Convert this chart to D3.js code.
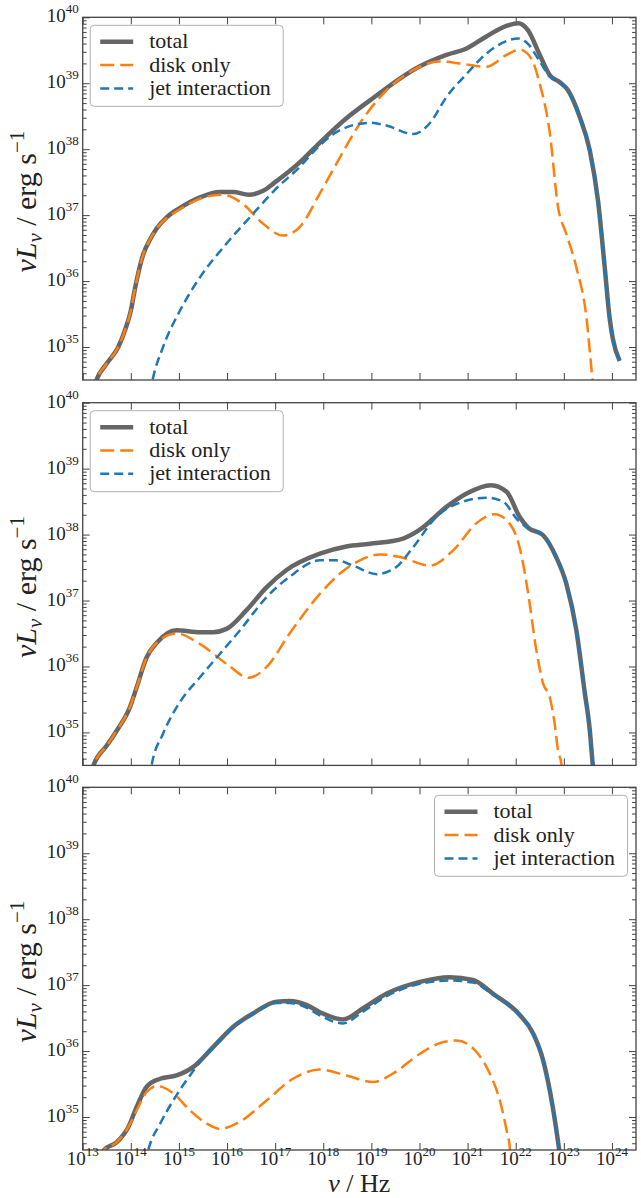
<!DOCTYPE html>
<html>
<head>
<meta charset="utf-8">
<script src="https://cdnjs.cloudflare.com/ajax/libs/d3/7.8.5/d3.min.js"></script>
<style>
  body { margin: 0; background: #fff; }
  text, tspan { font-family: "Liberation Serif", serif !important; }
</style>
</head>
<body>
<svg id="chart"></svg>
<script>
// each point: [log10(nu / Hz), log10(nu L_nu / erg s^-1)]
const p1Total = [[13.2, 34.3], [13.28, 34.49], [13.5, 34.75], [13.74, 35.0], [13.9, 35.3], [14.0, 35.55], [14.09, 35.9],
    [14.26, 36.41], [14.4, 36.63], [14.54, 36.8], [14.75, 36.97], [15.0, 37.1], [15.44, 37.27], [15.85, 37.35],
    [16.13, 37.35], [16.45, 37.31], [16.75, 37.37], [17.0, 37.5], [17.51, 37.8], [17.93, 38.1], [18.45, 38.45],
    [18.97, 38.74], [19.99, 39.25], [20.56, 39.43], [20.99, 39.53], [21.39, 39.71], [21.81, 39.87], [22.05, 39.91],
    [22.25, 39.81], [22.5, 39.43], [22.71, 39.12], [22.91, 39.02], [23.09, 38.89], [23.33, 38.49], [23.54, 37.98],
    [23.71, 37.22], [23.85, 36.21], [23.95, 35.45], [24.02, 35.12], [24.16, 34.79]];
const p1Disk = [[13.2, 34.3], [13.28, 34.49], [13.5, 34.75], [13.74, 35.0], [13.9, 35.3], [14.0, 35.55], [14.09, 35.9],
    [14.26, 36.41], [14.4, 36.63], [14.54, 36.8], [14.75, 36.96], [15.0, 37.08], [15.44, 37.25], [15.85, 37.31],
    [16.0, 37.3], [16.33, 37.17], [16.75, 36.87], [17.17, 36.69], [17.51, 36.82], [17.93, 37.33], [18.35, 37.88],
    [18.76, 38.39], [19.31, 38.89], [19.87, 39.2], [20.42, 39.33], [20.84, 39.3], [21.39, 39.25], [21.81, 39.43],
    [22.08, 39.51], [22.32, 39.38], [22.5, 38.99], [22.71, 38.24], [22.88, 37.12], [23.05, 36.72], [23.26, 36.21],
    [23.47, 35.45], [23.6, 34.49], [23.65, 34.2]];
const p1Jet = [[14.4, 34.3], [14.45, 34.49], [14.67, 35.0], [15.02, 35.55], [15.44, 36.06], [15.99, 36.57],
    [16.54, 37.02], [16.99, 37.38], [17.51, 37.73], [17.93, 38.06], [18.35, 38.29], [18.97, 38.4], [19.31, 38.36],
    [19.87, 38.23], [20.21, 38.39], [20.56, 38.79], [20.99, 39.15], [21.39, 39.45], [21.81, 39.64], [22.05, 39.68],
    [22.25, 39.6], [22.5, 39.33], [22.71, 39.1], [22.91, 39.02], [23.09, 38.89], [23.33, 38.49], [23.54, 37.98],
    [23.71, 37.22], [23.85, 36.21], [23.95, 35.45], [24.02, 35.12], [24.16, 34.79]];

const p2Total = [[13.15, 34.3], [13.22, 34.49], [13.5, 34.8], [13.71, 35.03], [13.98, 35.38], [14.12, 35.68],
    [14.33, 36.14], [14.54, 36.36], [14.95, 36.55], [15.44, 36.52], [15.71, 36.52], [15.99, 36.57], [16.4, 36.85],
    [16.82, 37.2], [17.23, 37.46], [17.93, 37.71], [18.48, 37.82], [18.97, 37.86], [19.66, 37.94], [20.0, 38.07],
    [20.56, 38.42], [20.97, 38.62], [21.49, 38.75], [21.81, 38.65], [22.08, 38.27], [22.25, 38.11], [22.57, 37.99],
    [22.84, 37.66], [23.05, 37.26], [23.26, 36.55], [23.43, 35.63], [23.54, 35.03], [23.6, 34.52], [23.63, 34.3]];
const p2Disk = [[13.15, 34.3], [13.22, 34.49], [13.5, 34.8], [13.71, 35.03], [13.98, 35.38], [14.12, 35.68],
    [14.33, 36.14], [14.54, 36.36], [14.95, 36.5], [15.44, 36.34], [15.99, 36.04], [16.45, 35.83], [16.82, 35.99],
    [17.3, 36.5], [17.93, 37.1], [18.35, 37.41], [18.76, 37.61], [19.18, 37.7], [19.59, 37.66], [20.21, 37.53],
    [20.7, 37.76], [21.18, 38.17], [21.56, 38.31], [21.87, 38.17], [22.08, 37.81], [22.25, 37.15], [22.43, 36.24],
    [22.57, 35.74], [22.71, 35.53], [22.81, 35.13], [22.88, 34.72], [22.95, 34.52], [22.98, 34.3]];
const p2Jet = [[14.4, 34.3], [14.43, 34.49], [14.67, 34.98], [15.02, 35.46], [15.44, 35.84], [15.85, 36.19],
    [16.27, 36.55], [16.82, 37.05], [17.3, 37.36], [17.93, 37.61], [18.27, 37.61], [18.62, 37.53], [19.11, 37.4],
    [19.52, 37.51], [19.87, 37.81], [20.35, 38.27], [20.9, 38.5], [21.39, 38.56], [21.74, 38.5], [22.02, 38.24],
    [22.25, 38.1], [22.57, 37.99], [22.84, 37.66], [23.05, 37.26], [23.26, 36.55], [23.43, 35.63], [23.54, 35.03],
    [23.6, 34.52], [23.63, 34.3]];

const p3Total = [[13.35, 34.35], [13.43, 34.49], [13.71, 34.62], [13.95, 34.85], [14.12, 35.15], [14.33, 35.46],
    [14.61, 35.58], [14.95, 35.63], [15.3, 35.76], [15.71, 36.06], [16.13, 36.37], [16.54, 36.57], [17.03, 36.75],
    [17.3, 36.76], [17.65, 36.7], [17.93, 36.59], [18.41, 36.48], [18.83, 36.65], [19.31, 36.87], [20.01, 37.05],
    [20.63, 37.12], [21.11, 37.08], [21.53, 36.87], [22.08, 36.55], [22.36, 36.27], [22.57, 35.86], [22.77, 35.15],
    [22.9, 34.52], [22.94, 34.3]];
const p3Disk = [[13.35, 34.35], [13.43, 34.49], [13.71, 34.62], [13.95, 34.85], [14.12, 35.1], [14.33, 35.38],
    [14.54, 35.47], [14.88, 35.36], [15.23, 35.1], [15.58, 34.9], [15.85, 34.82], [16.27, 34.93], [16.82, 35.25],
    [17.37, 35.58], [17.93, 35.72], [18.48, 35.63], [19.04, 35.53], [19.45, 35.66], [20.01, 35.96], [20.42, 36.12],
    [20.77, 36.16], [21.18, 35.99], [21.46, 35.66], [21.67, 35.25], [21.81, 34.8], [21.88, 34.52], [21.9, 34.3]];
const p3Jet = [[14.3, 34.3], [14.36, 34.49], [14.61, 34.9], [14.88, 35.25], [15.16, 35.56], [15.5, 35.89],
    [15.71, 36.05], [16.13, 36.36], [16.54, 36.56], [17.03, 36.73], [17.3, 36.73], [17.65, 36.66], [17.93, 36.54],
    [18.41, 36.42], [18.83, 36.6], [19.31, 36.83], [20.01, 37.02], [20.63, 37.07], [21.11, 37.04], [21.53, 36.85],
    [22.08, 36.55], [22.36, 36.27], [22.57, 35.86], [22.77, 35.15], [22.9, 34.52], [22.94, 34.3]];

const seriesNames = ["total", "disk only", "jet interaction"];
const panels = [[p1Total, p1Disk, p1Jet], [p2Total, p2Disk, p2Jet], [p3Total, p3Disk, p3Jet]];
const legendSide = ["left", "left", "right"];
const xTickExps = d3.range(13, 25);      // 10^13 .. 10^24
const yTickExps = d3.range(35, 41);      // 10^35 .. 10^40
const xDomainExp = [13, 24.5];
const yDomainExp = [34.5, 40];

const styles = [
    {color: "#666666", width: 4.5, dash: null},
    {color: "#ff7f0e", width: 2.5, dash: "14,6"},
    {color: "#1f77b4", width: 2.5, dash: "9,5"}
];

const serif = '"Liberation Serif", serif';
const width = 641, height = 1198;
const plotLeft = 82.7, plotRight = 636;
const panelTops = [17.3, 402.7, 787.3], panelH = 362.7;

const svg = d3.select("#chart")
    .attr("width", width)
    .attr("height", height)
    .style("font-family", serif, "important");

const x = d3.scaleLog().domain(xDomainExp.map(e => 10 ** e)).range([plotLeft, plotRight]);

const minorY = [];
d3.range(yDomainExp[0] - 1, yDomainExp[1]).forEach(e => {
    d3.range(2, 10).forEach(m => {
        const v = m * 10 ** Math.round(e);
        if (v > 10 ** yDomainExp[0] && v < 10 ** yDomainExp[1]) minorY.push(v);
    });
});

const txt = (sel, size) => sel
    .attr("font-family", serif)
    .style("font-family", serif, "important")
    .style("font-size", `${size}px`)
    .style("fill", "#222");

const powLabel = (sel, exp, base, sup, rise) => {
    sel.append("tspan").style("font-size", `${base}px`).text("10");
    sel.append("tspan").style("font-size", `${sup}px`).attr("dy", -rise).text(exp);
};

const drawPanel = (idx) => {
    const top = panelTops[idx], bottom = top + panelH;
    const y = d3.scaleLog().domain(yDomainExp.map(e => 10 ** e)).range([bottom, top]);
    const g = svg.append("g");

    g.append("clipPath").attr("id", `clip${idx}`)
        .append("rect")
        .attr("x", plotLeft).attr("y", top)
        .attr("width", plotRight - plotLeft).attr("height", panelH);

    // ticks on all four sides, pointing in
    const tickStyle = sel => {
        sel.select(".domain").remove();
        sel.selectAll("line").attr("stroke", "#444").attr("stroke-width", 1);
        sel.selectAll("text").remove();
    };
    const xTicks = xTickExps.map(e => 10 ** e);
    const yTicks = yTickExps.map(e => 10 ** e);
    g.append("g").attr("transform", `translate(0,${bottom})`)
        .call(d3.axisBottom(x).tickValues(xTicks).tickSize(-7)).call(tickStyle);
    g.append("g").attr("transform", `translate(0,${top})`)
        .call(d3.axisTop(x).tickValues(xTicks).tickSize(-7)).call(tickStyle);
    g.append("g").attr("transform", `translate(${plotLeft},0)`)
        .call(d3.axisLeft(y).tickValues(yTicks).tickSize(-7)).call(tickStyle);
    g.append("g").attr("transform", `translate(${plotRight},0)`)
        .call(d3.axisRight(y).tickValues(yTicks).tickSize(-7)).call(tickStyle);
    g.append("g").attr("transform", `translate(${plotLeft},0)`)
        .call(d3.axisLeft(y).tickValues(minorY).tickSize(-4)).call(tickStyle);
    g.append("g").attr("transform", `translate(${plotRight},0)`)
        .call(d3.axisRight(y).tickValues(minorY).tickSize(-4)).call(tickStyle);

    // lines
    const line = d3.line()
        .x(d => x(10 ** d[0]))
        .y(d => y(10 ** d[1]))
        .curve(d3.curveMonotoneX);

    g.append("g").attr("clip-path", `url(#clip${idx})`)
        .selectAll("path")
        .data(panels[idx])
        .join("path")
        .attr("d", line)
        .attr("fill", "none")
        .attr("stroke", (d, i) => styles[i].color)
        .attr("stroke-width", (d, i) => styles[i].width)
        .attr("stroke-dasharray", (d, i) => styles[i].dash)
        .attr("stroke-linejoin", "round");

    // frame
    g.append("rect")
        .attr("x", plotLeft).attr("y", top)
        .attr("width", plotRight - plotLeft).attr("height", panelH)
        .attr("fill", "none").attr("stroke", "#444").attr("stroke-width", 1.3);

    // y tick labels
    g.selectAll(".ylab")
        .data(yTickExps)
        .join("text")
        .attr("class", "ylab")
        .attr("x", plotLeft - 4)
        .attr("y", d => y(10 ** d) + 5)
        .attr("text-anchor", "end")
        .call(txt, 19)
        .each(function(d) { powLabel(d3.select(this), d, 19, 13, 9); });

    // x tick labels only on the last panel
    if (idx === panels.length - 1) {
        g.selectAll(".xlab")
            .data(xTickExps)
            .join("text")
            .attr("class", "xlab")
            .attr("x", d => x(10 ** d))
            .attr("y", bottom + 14.5)
            .attr("text-anchor", "middle")
            .call(txt, 19)
            .each(function(d) { powLabel(d3.select(this), d, 19, 13, 9); });
    }

    // y axis title
    const yt = g.append("text")
        .attr("transform", `translate(36,${(top + bottom) / 2 + 3}) rotate(-90)`)
        .attr("text-anchor", "middle")
        .call(txt, 30);
    yt.append("tspan").style("font-style", "italic").text("νL");
    yt.append("tspan").style("font-style", "italic").style("font-size", "21px").attr("dy", 6).text("ν");
    yt.append("tspan").attr("dy", -6).text(" / erg s");
    yt.append("tspan").style("font-size", "21px").attr("dy", -12).text("−1");

    // legend
    const boxW = 193, boxH = 81;
    const bx = legendSide[idx] === "left" ? plotLeft + 7.5 : plotRight - 8.5 - boxW;
    const by = top + 8;
    const leg = g.append("g").attr("transform", `translate(${bx},${by})`);
    leg.append("rect")
        .attr("width", boxW).attr("height", boxH).attr("rx", 4)
        .attr("fill", "#fff").attr("stroke", "#b0b0b0").attr("stroke-width", 1);
    const rows = leg.selectAll(".row")
        .data(seriesNames)
        .join("g")
        .attr("class", "row")
        .attr("transform", (d, i) => `translate(0,${16.5 + i * 23.3})`);
    rows.append("line")
        .attr("x1", 10).attr("x2", 43)
        .attr("stroke", (d, i) => styles[i].color)
        .attr("stroke-width", (d, i) => styles[i].width)
        .attr("stroke-dasharray", (d, i) => styles[i].dash);
    rows.append("text")
        .attr("x", 59).attr("y", 6.5)
        .call(txt, 22)
        .text(d => d);
};

panels.forEach((p, i) => drawPanel(i));

// x axis title
const xt = svg.append("text")
    .attr("x", (plotLeft + plotRight) / 2)
    .attr("y", 1192)
    .attr("text-anchor", "middle")
    .call(txt, 26);
xt.append("tspan").style("font-style", "italic").text("ν");
xt.append("tspan").text(" / Hz");
</script>
</body>
</html>
